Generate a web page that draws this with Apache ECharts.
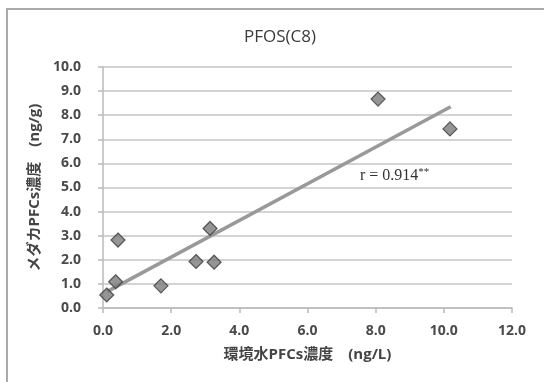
<!DOCTYPE html>
<html>
<head>
<meta charset="utf-8">
<script src="https://cdn.jsdelivr.net/npm/echarts@6/dist/echarts.min.js"></script>
<style>
html,body{margin:0;padding:0;background:#fff;}
#c{width:544px;height:382px;}
</style>
</head>
<body>
<div id="c"></div>
<script>
// Data
var titleText = 'PFOS(C8)';
var xName = '環境水PFCs濃度　(ng/L)';
var yName = 'メダカPFCs濃度　(ng/g)';
var waterX = [0.11, 0.37, 0.44, 1.70, 2.73, 3.14, 3.26, 8.07, 10.18];
var fishY  = [0.54, 1.09, 2.82, 0.92, 1.93, 3.30, 1.90, 8.67, 7.43];
var trendX = [0.12, 10.2];
var trendY = [0.68, 8.35];
var rLabel = 'r = 0.914';
var rSup = '**';

var pts = waterX.map(function (x, i) { return [x, fishY[i]]; });
var trend = trendX.map(function (x, i) { return [x, trendY[i]]; });

var labelFont = '"Open Sans", "Noto Sans CJK JP", sans-serif';
var chart = echarts.init(document.getElementById('c'));
chart.setOption({
  backgroundColor: '#fff',
  animation: false,
  title: {
    text: titleText,
    left: 239,
    top: 24,
    textStyle: { fontFamily: labelFont, fontSize: 17, fontWeight: 'normal', color: '#3a3a3a' }
  },
  grid: { left: 103, right: 32, top: 67, bottom: 74 },
  xAxis: {
    type: 'value', min: 0, max: 12, interval: 2,
    name: xName, nameLocation: 'middle', nameGap: 39,
    nameTextStyle: { fontFamily: labelFont, fontSize: 15, color: '#444', fontWeight: 'bold' },
    axisLine: { show: true, lineStyle: { color: '#bbb', width: 1.5 } },
    axisTick: { show: true, length: 5, lineStyle: { color: '#bbb', width: 1.5 } },
    axisLabel: { formatter: function (v) { return v.toFixed(1); }, fontFamily: labelFont, fontSize: 14, fontWeight: 'bold', color: '#4a4a4a', margin: 16 },
    splitLine: { show: false }
  },
  yAxis: {
    type: 'value', min: 0, max: 10, interval: 1,
    name: yName, nameLocation: 'middle', nameGap: 58, nameRotate: 90,
    nameTextStyle: { fontFamily: labelFont, fontSize: 15, color: '#444', fontWeight: 'bold' },
    axisLine: { show: true, lineStyle: { color: '#bbb', width: 1.5 } },
    axisTick: { show: true, length: 5, lineStyle: { color: '#bbb', width: 1.5 } },
    axisLabel: { formatter: function (v) { return v.toFixed(1); }, fontFamily: labelFont, fontSize: 14, fontWeight: 'bold', color: '#4a4a4a', margin: 22 },
    splitLine: { show: true, lineStyle: { color: '#c4c4c4', width: 1.5 } }
  },
  graphic: [
    { type: 'rect', shape: { x: 7, y: 9, width: 600, height: 420 }, style: { fill: 'none', stroke: '#aaa', lineWidth: 2 }, z: 0 },
    { type: 'text', left: 360, top: 167, z: 100,
      style: { text: '{a|' + rLabel + '}{s|' + rSup + '}', rich: {
        a: { fontFamily: '"Liberation Serif", "DejaVu Serif", serif', fontSize: 16, fill: '#333' },
        s: { fontFamily: '"Liberation Serif", "DejaVu Serif", serif', fontSize: 11, fill: '#333', verticalAlign: 'top', padding: [0, 0, 6, 0] }
      } } }
  ],
  series: [
    { type: 'line', data: trend, symbol: 'none', lineStyle: { color: '#999', width: 3.5 }, z: 2, silent: true },
    { type: 'scatter', data: pts, symbol: 'diamond', symbolSize: [14, 14],
      itemStyle: { color: '#7a7a7a', borderColor: '#3a3a3a', borderWidth: 1.2 }, z: 3 }
  ]
});
</script>
</body>
</html>
